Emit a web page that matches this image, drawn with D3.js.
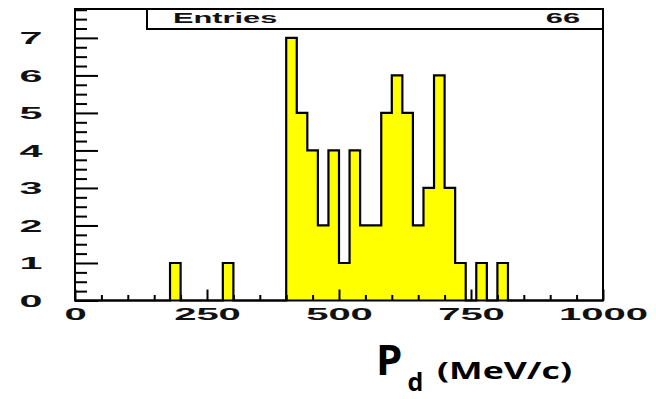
<!DOCTYPE html>
<html>
<head>
<meta charset="utf-8">
<script src="https://cdn.jsdelivr.net/npm/d3@7"></script>
<style>
  body { margin: 0; background: #fff; }
  svg { display: block; }
  .axis path { display: none; }
  .axis line { stroke: #000; stroke-width: 2; }
  .axis text { font-family: "Liberation Sans", Arial, sans-serif; font-weight: bold; fill: #111; }
</style>
</head>
<body>
<script>
//// DATA
// histogram: 50 bins of 20 MeV/c between 0 and 1000
var binWidth = 20;
var binLows = [0, 20, 40, 60, 80, 100, 120, 140, 160, 180,
               200, 220, 240, 260, 280, 300, 320, 340, 360, 380,
               400, 420, 440, 460, 480, 500, 520, 540, 560, 580,
               600, 620, 640, 660, 680, 700, 720, 740, 760, 780,
               800, 820, 840, 860, 880, 900, 920, 940, 960, 980];
var counts = [0, 0, 0, 0, 0, 0, 0, 0, 0, 1,
              0, 0, 0, 0, 1, 0, 0, 0, 0, 0,
              7, 5, 4, 2, 4, 1, 4, 2, 2, 5,
              6, 5, 2, 3, 6, 3, 1, 0, 1, 0,
              1, 0, 0, 0, 0, 0, 0, 0, 0, 0];
var entries = 66;

var xMajorTicks = [0, 250, 500, 750, 1000];
var xMinorTicks = [50, 100, 150, 200, 300, 350, 400, 450, 550, 600, 650, 700, 800, 850, 900, 950];
var yMajorTicks = [0, 1, 2, 3, 4, 5, 6, 7];
var yMinorTicks = [0.25, 0.5, 0.75, 1.25, 1.5, 1.75, 2.25, 2.5, 2.75, 3.25, 3.5, 3.75,
                   4.25, 4.5, 4.75, 5.25, 5.5, 5.75, 6.25, 6.5, 6.75, 7.25, 7.5, 7.75];

//// LAYOUT
var W = 656, H = 399;
var frame = {left: 75, right: 603, top: 9, bottom: 300.5};
var textStretch = 2.5;

var svg = d3.select("body").append("svg")
    .attr("width", W)
    .attr("height", H);

var x = d3.scaleLinear().domain([0, 1000]).range([frame.left, frame.right]);
var y = d3.scaleLinear().domain([0, 7.77]).range([frame.bottom, frame.top]);

// histogram points for step drawing
var pts = binLows.map(function(lo, i) { return [lo, counts[i]]; });
pts.push([binLows[binLows.length - 1] + binWidth, 0]);

var area = d3.area()
    .curve(d3.curveStepAfter)
    .x(function(d) { return x(d[0]); })
    .y0(y(0))
    .y1(function(d) { return y(d[1]); });

var outline = d3.line()
    .curve(d3.curveStepAfter)
    .x(function(d) { return x(d[0]); })
    .y(function(d) { return y(d[1]); });

svg.append("path")
    .datum(pts)
    .attr("d", area)
    .attr("fill", "#ffff00");

svg.append("path")
    .datum(pts)
    .attr("d", outline)
    .attr("fill", "none")
    .attr("stroke", "#000")
    .attr("stroke-width", 2.2);

// frame
svg.append("rect")
    .attr("x", frame.left)
    .attr("y", frame.top)
    .attr("width", frame.right - frame.left)
    .attr("height", frame.bottom - frame.top)
    .attr("fill", "none")
    .attr("stroke", "#000")
    .attr("stroke-width", 2);

//// AXES
// x minor
svg.append("g")
    .attr("class", "axis")
    .attr("transform", "translate(0," + frame.bottom + ")")
    .call(d3.axisBottom(x).tickValues(xMinorTicks).tickSize(-5.5).tickFormat(""));

// x major with labels
var xAx = svg.append("g")
    .attr("class", "axis")
    .attr("transform", "translate(0," + frame.bottom + ")")
    .call(d3.axisBottom(x).tickValues(xMajorTicks).tickSize(-11).tickFormat(d3.format("d")));
xAx.selectAll("text")
    .attr("y", 0)
    .attr("dy", null)
    .attr("font-size", 16)
    .attr("transform", "translate(0,19.5) scale(" + textStretch + ",1)");

// y minor
svg.append("g")
    .attr("class", "axis")
    .attr("transform", "translate(" + frame.left + ",0)")
    .call(d3.axisLeft(y).tickValues(yMinorTicks).tickSize(-12).tickFormat(""));

// y major with labels
var yAx = svg.append("g")
    .attr("class", "axis")
    .attr("transform", "translate(" + frame.left + ",0)")
    .call(d3.axisLeft(y).tickValues(yMajorTicks).tickSize(-23).tickFormat(d3.format("d")));
yAx.selectAll("text")
    .attr("x", 0)
    .attr("dy", "0.36em")
    .attr("text-anchor", "middle")
    .attr("font-size", 16.5)
    .attr("transform", "translate(-44,0) scale(" + textStretch + ",1)");

//// STATS BOX
var stats = svg.append("g");
stats.append("rect")
    .attr("x", 147)
    .attr("y", frame.top)
    .attr("width", frame.right - 147)
    .attr("height", 20)
    .attr("fill", "#fff")
    .attr("stroke", "#000")
    .attr("stroke-width", 2);
stats.append("text")
    .attr("transform", "translate(173,23) scale(2.2,1)")
    .attr("font-family", "Liberation Sans, Arial, sans-serif")
    .attr("font-weight", "bold")
    .attr("font-size", 14)
    .attr("fill", "#111")
    .text("Entries");
stats.append("text")
    .attr("transform", "translate(580,23) scale(2.2,1)")
    .attr("text-anchor", "end")
    .attr("font-family", "Liberation Sans, Arial, sans-serif")
    .attr("font-weight", "bold")
    .attr("font-size", 14)
    .attr("fill", "#111")
    .text(entries);

//// AXIS TITLE
var title = svg.append("text")
    .attr("x", 376)
    .attr("y", 375)
    .attr("font-family", "Open Sans, sans-serif")
    .attr("font-weight", "bold")
    .attr("fill", "#000");
title.append("tspan")
    .attr("font-size", 42)
    .text("P");
title.append("tspan")
    .attr("font-size", 25)
    .attr("dx", 5)
    .attr("dy", 16)
    .text("d");
svg.append("text")
    .attr("x", 437)
    .attr("y", 379)
    .attr("font-family", "Open Sans, sans-serif")
    .attr("font-weight", "bold")
    .attr("font-size", 24)
    .attr("textLength", 135)
    .attr("lengthAdjust", "spacingAndGlyphs")
    .attr("fill", "#000")
    .text("(MeV/c)");
</script>
</body>
</html>
